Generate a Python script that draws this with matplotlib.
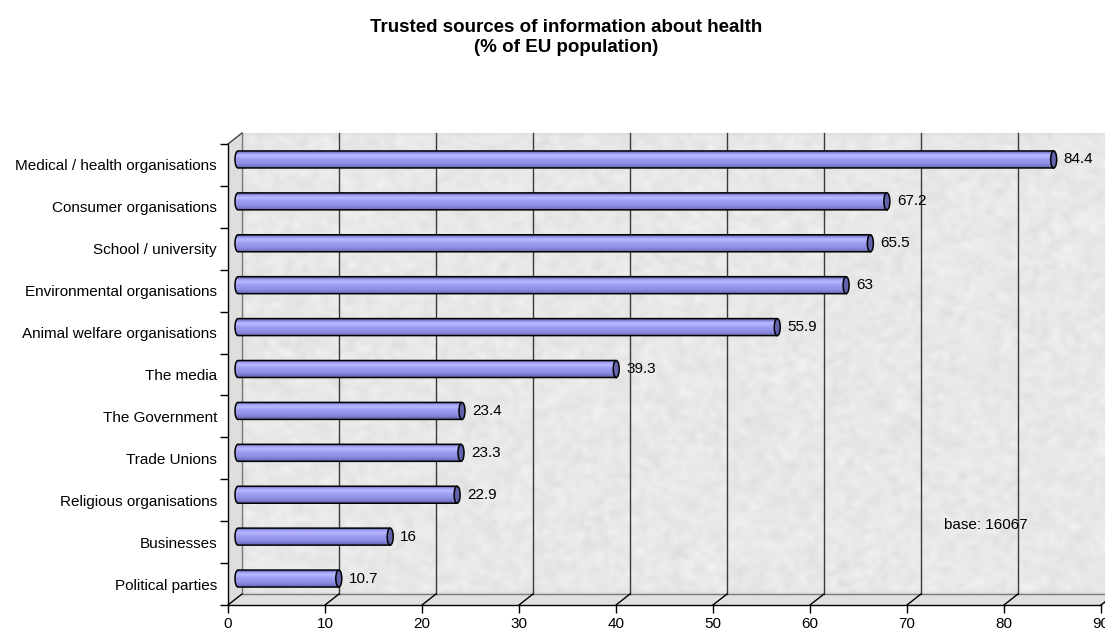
import numpy as np
import matplotlib
matplotlib.use("Agg")
import matplotlib.pyplot as plt
from matplotlib.patches import Polygon, Ellipse, PathPatch
from matplotlib.path import Path

plt.rcParams["font.family"] = ["Liberation Sans", "DejaVu Sans"]

# data, bottom to top
categories = [
    "Political parties",
    "Businesses",
    "Religious organisations",
    "Trade Unions",
    "The Government",
    "The media",
    "Animal welfare organisations",
    "Environmental organisations",
    "School / university",
    "Consumer organisations",
    "Medical / health organisations",
]
values = [10.7, 16, 22.9, 23.3, 23.4, 39.3, 55.9, 63, 65.5, 67.2, 84.4]
value_labels = ["10.7", "16", "22.9", "23.3", "23.4", "39.3", "55.9", "63", "65.5", "67.2", "84.4"]
xticks = [0, 10, 20, 30, 40, 50, 60, 70, 80, 90]

W, H = 1105, 632
fig = plt.figure(figsize=(W / 100, H / 100), dpi=100)

# axes box in pixels: front x axis at y=605, wall top at y=133, x from 228 to 1101
px_left, px_right, px_bottom, px_top = 228, 1101, 605, 133
ax = fig.add_axes([px_left / W, (H - px_bottom) / H,
                   (px_right - px_left) / W, (px_bottom - px_top) / H])
ax.set_facecolor("none")

n = len(categories)
xmax = 90
sx = (px_right - px_left) / xmax          # px per unit
sy = (px_bottom - 144) / n                # px per category
DX = 14 / sx                              # depth offset in data units
DY = 11 / sy
ybot, ytop = -0.5, n - 0.5
ax.set_xlim(0, xmax)
ax.set_ylim(ybot, ytop + DY)

xr = xmax + DX + 10

# fine marble-like texture for the walls
rng = np.random.default_rng(3)
tex = rng.random((240, 440))
k = np.ones(3) / 3
for _ in range(2):
    tex = np.apply_along_axis(lambda r: np.convolve(r, k, mode="same"), 1, tex)
    tex = np.apply_along_axis(lambda c: np.convolve(c, k, mode="same"), 0, tex)
tex = (tex - tex.min()) / (tex.max() - tex.min())
tex = 0.85 + 0.10 * tex

back = Polygon([(DX, ybot + DY), (xr, ybot + DY), (xr, ytop + DY), (DX, ytop + DY)],
               closed=True, facecolor="none", edgecolor="none")
floor = Polygon([(0, ybot), (xr, ybot), (xr, ybot + DY), (DX, ybot + DY)],
                closed=True, facecolor="#e0e0e0", edgecolor="none", zorder=0, clip_on=False)
side = Polygon([(0, ybot), (DX, ybot + DY), (DX, ytop + DY), (0, ytop)],
               closed=True, facecolor="#dedede", edgecolor="none", zorder=0, clip_on=False)
ax.add_patch(back)
ax.add_patch(floor)
ax.add_patch(side)
wall_im = ax.imshow(tex, cmap="gray", vmin=0, vmax=1, extent=(DX, xr, ybot + DY, ytop + DY),
                    aspect="auto", interpolation="bilinear", zorder=0)
wall_im.set_clip_path(back)
wall_im.set_clip_on(False)

# wall edges
ax.plot([DX, xr], [ybot + DY, ybot + DY], color="#7a7a7a", lw=1, zorder=1, clip_on=False)
ax.plot([DX, DX], [ybot + DY, ytop + DY], color="#7a7a7a", lw=1, zorder=1)
ax.plot([0, DX], [ytop, ytop + DY], color="#404040", lw=1, zorder=1, clip_on=False)

# gridlines on the back wall and their diagonals across the floor
for t in xticks:
    if t > 0:
        ax.plot([t + DX, t + DX], [ybot + DY, ytop + DY], color="#3a3a3a", lw=1,
                zorder=1, clip_on=False)
    ax.plot([t, t + DX], [ybot, ybot + DY], color="black", lw=1, zorder=1, clip_on=False)

# cylinder bars
bar_h = 17 / sy
cap_w = 6 / sx
grad = np.array([
    [0.45, 0.45, 0.76],
    [0.66, 0.66, 0.99],
    [0.72, 0.72, 1.00],
    [0.66, 0.66, 0.98],
    [0.61, 0.61, 0.94],
    [0.59, 0.59, 0.92],
    [0.56, 0.56, 0.89],
    [0.50, 0.50, 0.83],
    [0.43, 0.43, 0.73],
])
grad_img = grad[:, None, :]

for i, v in enumerate(values):
    yc = i + DY / 2
    x0 = DX / 2
    x1 = v + DX / 2
    y0, y1 = yc - bar_h / 2, yc + bar_h / 2
    # body outline: rounded left end, straight right end
    t = np.linspace(np.pi / 2, 3 * np.pi / 2, 20)
    left = [(x0 + cap_w / 2 * np.cos(a) + cap_w / 2, yc + bar_h / 2 * np.sin(a)) for a in t]
    verts = [(x1, y1)] + left + [(x1, y0), (x1, y1)]
    body = PathPatch(Path(verts), facecolor="none", edgecolor="black", lw=1.1, zorder=3)
    im = ax.imshow(grad_img, extent=(x0, x1, y0, y1), origin="upper",
                   aspect="auto", interpolation="bilinear", zorder=2)
    im.set_clip_path(PathPatch(Path(verts), transform=ax.transData))
    ax.add_patch(body)
    ax.add_patch(Ellipse((x1, yc), cap_w, bar_h, facecolor="#6262ad",
                         edgecolor="black", lw=1.1, zorder=4))
    ax.text(x1 + cap_w / 2 + 7 / sx, yc, value_labels[i], ha="left", va="center",
            fontsize=11, color="black", zorder=5)

ax.set_xlim(0, xmax)
ax.set_ylim(ybot, ytop + DY)

# axes: front lines and ticks
for s in ["top", "right"]:
    ax.spines[s].set_visible(False)
ax.spines["left"].set_bounds(ybot, ytop)
ax.spines["bottom"].set_linewidth(1)
ax.spines["left"].set_linewidth(1)
ax.set_xticks(xticks)
ax.set_xticklabels([str(t) for t in xticks], fontsize=11)
ax.tick_params(axis="x", direction="out", length=6, width=1, pad=3)
ax.set_yticks(np.arange(-0.5, n, 1.0))
ax.set_yticklabels([])
ax.tick_params(axis="y", which="major", direction="out", length=6, width=1)
ax.set_yticks(np.arange(n), minor=True)
ax.set_yticklabels(categories, minor=True, fontsize=11)
ax.tick_params(axis="y", which="minor", length=0, pad=8)

ax.text(73.8, 1.41, "base: 16067", fontsize=11, ha="left", va="center", zorder=5)

fig.text(566 / W, 1 - 37.5 / H, "Trusted sources of information about health\n(% of EU population)",
         ha="center", va="center", fontsize=13.5, fontweight="bold", linespacing=1.3)

fig.savefig("out.png", dpi=100, facecolor="white")
